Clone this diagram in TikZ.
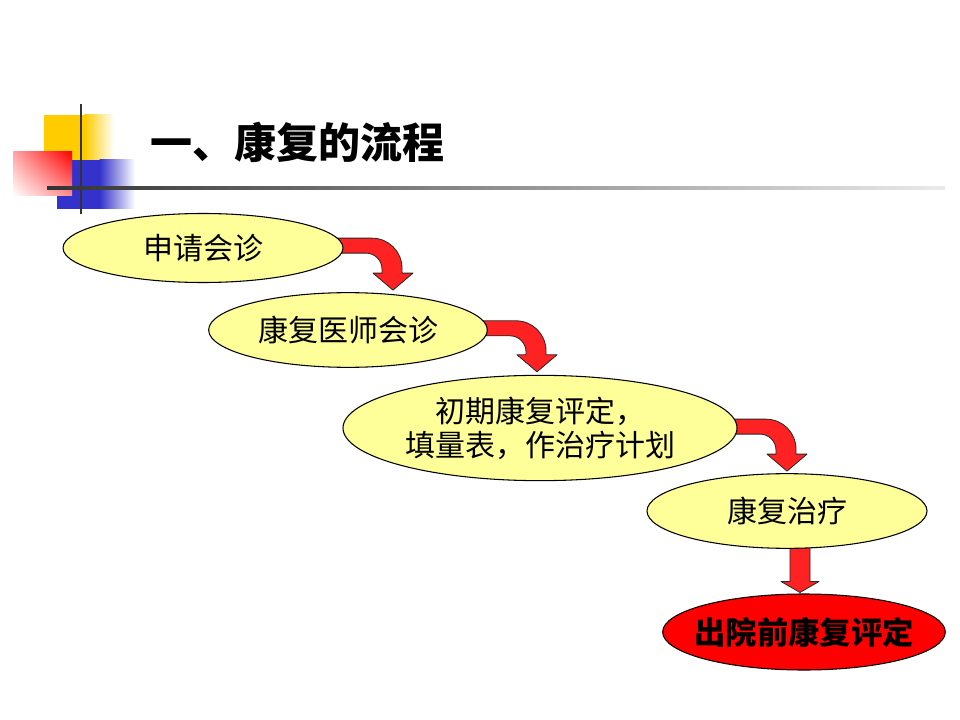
\documentclass[tikz,border=0pt]{standalone}
\usepackage{fontspec}
\newfontfamily\cjk{Noto Sans CJK SC}
\usetikzlibrary{shapes.geometric,calc,shadings}
\definecolor{elly}{HTML}{FFFF99}
\definecolor{arrred}{HTML}{FF2222}
\definecolor{decoyel}{HTML}{FFCC00}
\definecolor{decoblue}{HTML}{3333CC}
\pgfdeclarelayer{bg}
\pgfsetlayers{bg,main}
\tikzset{
 ell/.style={ellipse,draw=black,line width=0.8pt,fill=elly,inner sep=0pt,
   font=\cjk\fontsize{22.5}{25.5}\selectfont,align=center},
 blockarrow/.style={fill=arrred,draw=black!85,line width=0.6pt,line join=round},
 pics/bent/.style n args={2}{code={
   \path[blockarrow] (-#1,-#2) -- (-21,-#2) .. controls (-4.4,-#2) and (9,-#2+13.4) .. (9,-#2+30)
     -- (9,-17) -- (20,-17) -- (0,0) -- (-20,-17) -- (-11,-17) -- (-11,-#2+31)
     .. controls (-11,-#2+22.2) and (-18.2,-#2+15) .. (-27,-#2+15) -- (-#1,-#2+15) -- cycle;
 }},
 pics/down/.style={code={
   \path[blockarrow] (-10,-#1) -- (10,-#1) -- (10,-11) -- (19,-11) -- (0,0) -- (-19,-11) -- (-10,-11) -- cycle;
 }},
}
\begin{document}
\begin{tikzpicture}[x=0.75pt,y=-0.75pt]
\useasboundingbox (0,0) rectangle (960,720);
% decoration
\fill[decoyel] (44,115) rectangle (85,160);
\shade[left color=decoyel,right color=white] (84.5,115) rectangle (114,160);
\fill[decoblue] (57,160) rectangle (100,209);
\shade[left color=decoblue,right color=white] (99.5,160) rectangle (135,209);
\shade[upper right=red,upper left=red!35,lower right=red!45,lower left=white] (13,152) rectangle (72,196);
\draw[black!80,line width=1.5pt] (81,104) -- (81,214);
\shade[left color=black!80,right color=black!8] (47,187) rectangle (945,189.5);
% title
\node[anchor=west,inner sep=0pt,font=\cjk\bfseries\fontsize{31.5}{32}\selectfont] (title) at (150,142) {一、康复的流程};
% nodes
\node[ell,minimum width=210pt,minimum height=51.75pt] (e1) at (203,248) {申请会诊};
\node[ell,minimum width=209pt,minimum height=56pt] (e2) at (348,330) {康复医师会诊};
\node[ell,minimum width=295.5pt,minimum height=79pt] (e3) at (540,428) {初期康复评定，\\填量表，作治疗计划};
\node[ell,minimum width=210pt,minimum height=56pt] (e4) at (787,511) {康复治疗};
\node[ell,fill=red,font=\cjk\bfseries\fontsize{23.5}{25}\selectfont,minimum width=212pt,minimum height=57pt] (e5) at (804,632) {\makebox[0pt][c]{出院前康复评定}};
% arrows
\begin{pgfonlayer}{bg}
\pic at ($(e2.north)+(45,-2)$) {bent={58}{52}};
\pic at ($(e3.north)+(-3,-3)$) {bent={57}{51}};
\pic at ($(e4.north)+(0,-2)$) {bent={57}{52}};
\pic at ($(e5.north)+(-4,-1)$) {down=50};
\end{pgfonlayer}
\end{tikzpicture}
\end{document}
